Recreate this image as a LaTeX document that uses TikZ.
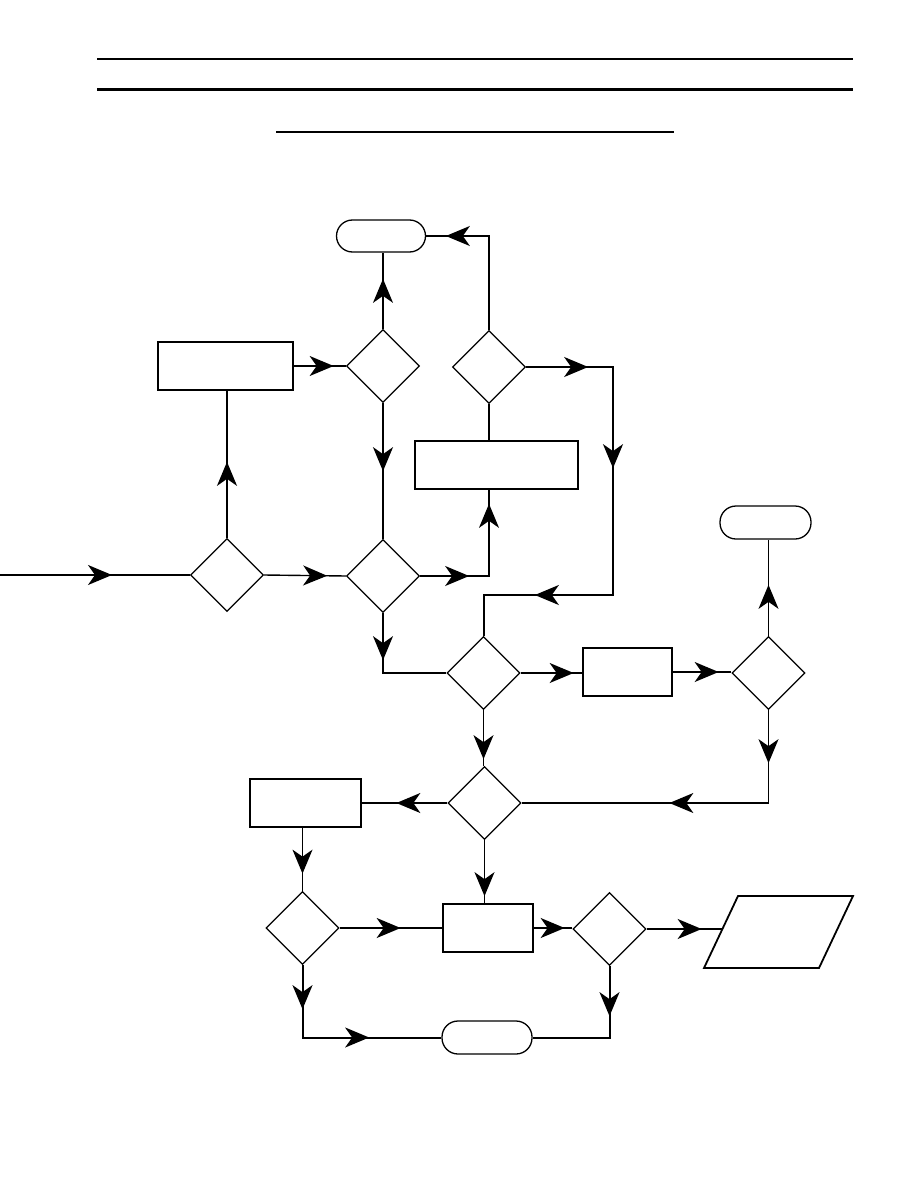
\documentclass[tikz,border=0pt]{standalone}
\usetikzlibrary{arrows.meta,shapes.geometric,decorations.markings}
\tikzset{
  conn/.style={line width=1.4pt, line join=miter},
  tconn/.style={line width=2pt, line join=miter},
  dia/.style={draw, diamond, line width=1.3pt, minimum width=73pt, minimum height=73pt, inner sep=0pt},
  box/.style={draw, rectangle, line width=1.3pt, inner sep=0pt},
  term/.style={draw, rectangle, rounded corners=16pt, line width=1.3pt, inner sep=0pt},
  tip/.style={postaction={decorate, decoration={markings, mark=at position #1 with {\arrow{Stealth[length=24pt,width=20pt,inset=7pt]}}}}},
}
\begin{document}
\begin{tikzpicture}[x=1pt,y=-1pt]
\useasboundingbox (0,0) rectangle (918,1188);
% header rules
\coordinate (h1a) at (97,59);  \coordinate (h1b) at (853,59);
\coordinate (h2a) at (97,90);  \coordinate (h2b) at (853,90);
\coordinate (h3a) at (276,132); \coordinate (h3b) at (674,132);
\draw[line width=1.2pt] (h1a) -- (h1b);
\draw[line width=3pt] (h2a) -- (h2b);
\draw[line width=1.3pt] (h3a) -- (h3b);

% nodes
\node[term, minimum width=89pt, minimum height=32pt] (T1) at (381,236) {};
\node[box, minimum width=135pt, minimum height=48pt] (R1) at (225.5,366) {};
\node[dia] (D1) at (383,366) {};
\node[dia] (D2) at (489,367) {};
\node[box, minimum width=163pt, minimum height=48pt] (R2) at (496.5,465) {};
\node[dia] (D3) at (227,575) {};
\node[dia] (D5) at (383,576) {};
\node[dia] (D4) at (483.5,673) {};
\node[box, minimum width=89pt, minimum height=48pt] (R3) at (627.5,672) {};
\node[dia] (D6) at (768.5,673) {};
\node[term, minimum width=91pt, minimum height=33pt] (T2) at (765.5,522.5) {};
\node[dia] (D7) at (484.5,803) {};
\node[box, minimum width=111pt, minimum height=48pt] (R4) at (305.5,803) {};
\node[dia] (D8) at (302.5,928) {};
\node[box, minimum width=90pt, minimum height=48pt] (R5) at (488,928) {};
\node[dia] (D9) at (609.5,929) {};
\node[term, minimum width=90pt, minimum height=33pt] (T3) at (487,1037.5) {};
% parallelogram
\coordinate (P1) at (738,896); \coordinate (P2) at (853,896);
\coordinate (P3) at (819,968); \coordinate (P4) at (704,968);
\draw[line width=1.8pt] (P1) -- (P2) -- (P3) -- (P4) -- cycle;
\coordinate (Pin) at (721.8,929);

% connectors
\coordinate (in) at (0,575);
\draw[conn, tip=112pt] (in) -- (D3.west);
\draw[tconn, tip=76pt] (D3.north) -- (D3.north |- R1.south);
\draw[conn, tip=40pt] (R1.east) -- (D1.west);
\draw[conn, tip=50pt] (D1.north) -- (D1.north |- T1.south);
\draw[tconn, tip=68pt] (D1.south) -- (D5.north);
\draw[conn, tip=63pt] (D3.east) -- (D5.west);
\draw[conn, tip=49pt, tip=141pt] (D5.east) -- (D5.east -| D2.south) -- (D2.south |- R2.south);
\draw[conn] (D2.south) -- (D2.south |- R2.north);
\draw[tconn, tip=137pt] (D2.north) -- (D2.north |- T1.east) -- (T1.east);
\coordinate (c1) at (613,367); \coordinate (c2) at (613,595);
\draw[tconn, tip=62pt, tip=188pt, tip=393pt] (D2.east) -- (c1) -- (c2) -- (c2 -| D4.north) -- (D4.north);
\draw[conn, tip=47pt] (D5.south) -- (D5.south |- D4.west) -- (D4.west);
\draw[conn, tip=53pt] (D4.east) -- (D4.east -| R3.west);
\draw[conn, tip=46pt] (R3.east) -- (R3.east -| D6.west);
\draw[conn, tip=51pt] (D6.north) -- (D6.north |- T2.south);
\draw[conn, tip=53pt, tip=192pt] (D6.south) -- (D6.south |- D7.east) -- (D7.east);
\draw[conn, tip=49pt] (D4.south) -- (D4.south |- D7.north);
\draw[tconn, tip=51pt] (D7.west) -- (D7.west -| R4.east);
\draw[conn, tip=46pt] (D8.north |- R4.south) -- (D8.north);
\draw[conn, tip=56pt] (D7.south) -- (D7.south |- R5.north);
\draw[tconn, tip=61pt] (D8.east) -- (D8.east -| R5.west);
\draw[tconn, tip=31pt] (R5.east) -- (R5.east -| D9.west);
\draw[tconn, tip=55pt] (D9.east) -- (Pin);
\draw[tconn, tip=44pt, tip=139pt] (D8.south) -- (D8.south |- T3.west) -- (T3.west);
\draw[tconn, tip=50pt] (D9.south) -- (D9.south |- T3.east) -- (T3.east);
\end{tikzpicture}
\end{document}
